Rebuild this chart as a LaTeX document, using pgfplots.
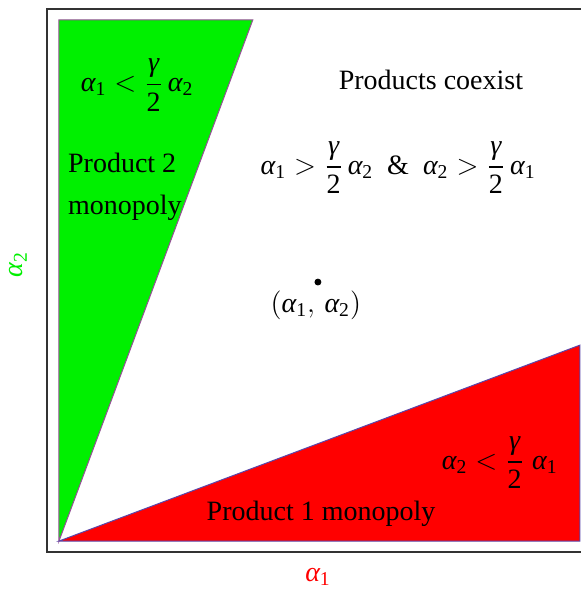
\documentclass[border=0pt]{standalone}
\usepackage{fontspec}
\setmainfont{Liberation Serif}
\usepackage{amsmath}
\usepackage{pgfplots}
\pgfplotsset{compat=1.18}

\definecolor{regGreen}{RGB}{0,240,0}
\definecolor{regRed}{RGB}{255,0,0}
\definecolor{edgeG}{RGB}{150,80,150}
\definecolor{edgeR}{RGB}{90,70,170}
\definecolor{frameC}{RGB}{50,50,50}

% Greek letters in the Times-like text font
\newcommand{\al}[1]{\textit{α}_{\text{#1}}}
\newcommand{\hg}{\displaystyle\frac{\textit{γ}}{\text{2}}}

\begin{document}
\begin{tikzpicture}[every node/.style={font=\fontsize{14}{17}\selectfont}]
\begin{axis}[
  scale only axis,
  width=267pt, height=271.5pt,
  xmin=-0.023, xmax=1.002,
  ymin=-0.021, ymax=1.021,
  axis line style={draw=none},
  ticks=none,
  clip=false,
]
% product 2 monopoly region
\addplot[fill=regGreen, draw=edgeG, line width=0.5pt]
  coordinates {(0,0) (0,1) (0.372,1)} -- cycle;
% product 1 monopoly region
\addplot[fill=regRed, draw=edgeR, line width=0.5pt]
  coordinates {(0,0) (1,0) (1,0.376)} -- cycle;
% the point (alpha1, alpha2)
\addplot[only marks, mark=*, mark size=1.5pt, black]
  coordinates {(0.497,0.497)};

% frame: left, top and bottom
\draw[frameC, line width=1pt]
  (rel axis cs:1,0) -- (rel axis cs:0,0) -- (rel axis cs:0,1) -- (rel axis cs:1,1);

\node at (axis cs:0.150,0.875) {$\al{1} < \hg\,\al{2}$};
\node[anchor=west, align=left] at (axis cs:0.004,0.679) {Product 2\\[4pt]monopoly};
\node at (axis cs:0.714,0.885) {Products coexist};
\node at (axis cs:0.651,0.716) {$\al{1} > \hg\,\al{2}$\ \ \&\ \ $\al{2} > \hg\,\al{1}$};
\node at (axis cs:0.493,0.453) {$(\al{1},\,\al{2})$};
\node at (axis cs:0.846,0.150) {$\al{2} < \hg\;\al{1}$};
\node at (axis cs:0.503,0.052) {Product 1 monopoly};

\node[text=regRed] at ([yshift=-12.5pt]rel axis cs:0.5075,0) {$\al{1}$};
\node[text=regGreen, rotate=90] at ([xshift=-14.5pt]rel axis cs:0,0.529) {$\al{2}$};
\end{axis}
\pgfresetboundingbox
\path[use as bounding box]
  ([xshift=-23.5pt,yshift=-18.5pt]current axis.south west)
  rectangle ([yshift=4.5pt]current axis.north east);
\end{tikzpicture}
\end{document}
